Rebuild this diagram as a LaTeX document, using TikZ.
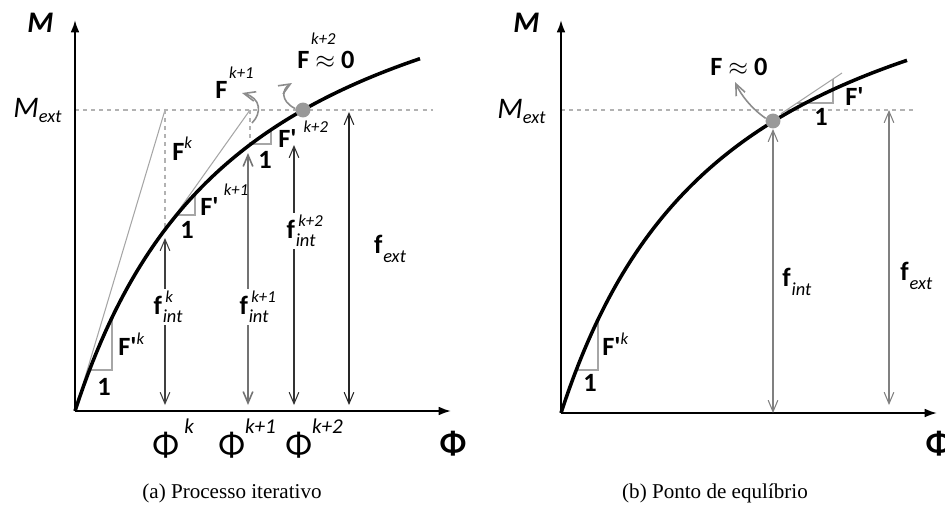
\documentclass[tikz,border=0pt]{standalone}
\usepackage{fontspec}
\setmainfont{Carlito}
\newfontfamily\capfont{Liberation Serif}
\usepackage{tikz}
\usetikzlibrary{arrows.meta}

\newcommand{\sz}[1]{\fontsize{#1}{#1}\selectfont}
\newcommand{\supr}[2]{\raisebox{#1}{\sz{9.5}\mdseries\itshape #2}}
\newcommand{\flab}[2]{\textbf{f}\rlap{\raisebox{0.42em}{\sz{9.5}\mdseries\itshape\hspace{2pt}#2}}\raisebox{-0.32em}{\sz{10.5}\mdseries\itshape\hspace{0.5pt}#1}}
\newcommand{\Fp}{F\textquotesingle}

\begin{document}
\begin{tikzpicture}[x=0.02cm, y=0.02cm, >={Straight Barb[length=6.5pt,width=5.5pt]},
    axis/.style={line width=1.1pt, -{Latex[length=7pt,width=5pt]}},
    curve/.style={line width=2pt},
    tang/.style={black!35, line width=0.6pt},
    guide/.style={black!30, line width=0.6pt, dash pattern=on 2.3pt off 2.3pt},
    dim/.style={<->, line width=0.6pt},
    iter/.style={->, black!45, line width=0.9pt},
    dot/.style={circle, fill=black!40, minimum size=8.5pt, inner sep=0pt},
    lbl/.style={font=\sz{15}\bfseries, inner sep=0pt},
    philbl/.style={font=\sz{20}, inner sep=0pt, anchor=base west},
    captxt/.style={font=\capfont\sz{12}}]

  \useasboundingbox (0,0) rectangle (945,522);

  % (a) iterative process
  \begin{scope}[shift={(75,111)}]
    \coordinate (oA) at (0,0);
    \coordinate (xA) at (376,0);
    \coordinate (yA) at (0,391);
    \coordinate (mA0) at (0,301);
    \coordinate (mA1) at (358,301);
    \coordinate (tA1) at (90,301);
    \coordinate (kA) at (90,181.4);
    \coordinate (tA2) at (175,301);
    \coordinate (k1A) at (175,266.3);
    \draw[guide] (mA0) -- (mA1);
    \draw[tang] (oA) -- (tA1);
    \draw[guide] (tA1) -- (kA);
    \draw[tang] (kA) -- (tA2);
    \draw[guide] (tA2) -- (k1A);
    \draw[tang] (14.5,41) -- (37,41) -- (37,93.5);
    \draw[tang] (101.5,196) -- (120,196) -- (120,217);
    \draw[tang] (176,267) -- (196,267) -- (196,281.2);
    \draw[curve] plot[domain=0:345, samples=80] (\x, {\x*(528/(172+\x))});
    \draw[axis] (oA) -- (xA);
    \draw[axis] (oA) -- (yA);
    \node[dot] (eqA) at (228,301) {};

    \coordinate (a1b) at (90,6);   \coordinate (a1t) at (90,173);
    \coordinate (a2b) at (173,6);  \coordinate (a2t) at (173,258);
    \coordinate (a3b) at (219,6);  \coordinate (a3t) at (219,266);
    \coordinate (a4b) at (274,6);  \coordinate (a4t) at (274,299);
    \draw[dim, black!75] (a1b) -- (a1t);
    \draw[dim, black!55, line width=0.9pt] (a2b) -- (a2t);
    \draw[dim, black!80] (a3b) -- (a3t);
    \draw[dim, black!85] (a4b) -- (a4t);
    \node[lbl, fill=white, inner sep=1.5pt] (fA1) at (93,104) {\flab{int}{k}};
    \node[lbl, fill=white, inner sep=1.5pt] (fA2) at (179,104) {\flab{int}{k+1}};
    \node[lbl, fill=white, inner sep=1.5pt] (fA3) at (226,180) {\flab{int}{k+2}};
    \node[lbl] (fA4) at (315,162) {\flab{ext}{}};

    \coordinate (ck1) at (177,288);
    \coordinate (ck1e) at (167,318);
    \coordinate (ck2e) at (217,328);
    \draw[iter] (ck1) .. controls (187,298) and (186,313) .. (ck1e);
    \draw[iter] (eqA.170) .. controls (205,310) and (207,322) .. (ck2e);

    \node[lbl, anchor=base west] (FkA) at (97,251) {F\supr{0.45em}{k}};
    \node[lbl, anchor=base west] (Fk1A) at (140,313) {F\hspace{1pt}\supr{0.75em}{k+1}};
    \node[lbl, anchor=base west] (Fk2A) at (222,343) {F\rlap{\hspace{1pt}\supr{0.9em}{k+2}} $\approx$ 0};
    \node[lbl, anchor=base west] (dFkA) at (43,56) {\Fp\supr{0.38em}{k}};
    \node[lbl, anchor=base west] (dFk1A) at (125,196) {\Fp\hspace{3pt}\supr{0.75em}{k+1}};
    \node[lbl, anchor=base west] (dFk2A) at (203,264) {\Fp\hspace{4pt}\supr{0.55em}{k+2}};
    \node[lbl, anchor=base west] (uA1) at (22,16) {1};
    \node[lbl, anchor=base west] (uA2) at (105,173) {1};
    \node[lbl, anchor=base west] (uA3) at (183,243) {1};

    \node[philbl] (pA1) at (77,-45) {Φ\hspace{3pt}\raisebox{13pt}{\sz{12}\itshape k}};
    \node[philbl] (pA2) at (143,-45) {Φ\raisebox{13pt}{\sz{12}\itshape k+1}};
    \node[philbl] (pA3) at (210,-45) {Φ\raisebox{13pt}{\sz{12}\itshape k+2}};
    \node[lbl, font=\sz{19}\bfseries] (phiA) at (378,-33) {Φ};
    \node[lbl, font=\sz{17}\bfseries\itshape, anchor=base west] (MA) at (-48,379) {M};
    \node[inner sep=0pt, font=\sz{17}\itshape, anchor=base west] (MeA) at (-62,294) {M\raisebox{-0.2em}{\sz{10.5}ext}};
  \end{scope}

  % (b) equilibrium point
  \begin{scope}[shift={(561,109)}]
    \coordinate (oB) at (0,0);
    \coordinate (xB) at (376,0);
    \coordinate (yB) at (0,393);
    \coordinate (mB0) at (0,303);
    \coordinate (mB1) at (352,303);
    \draw[guide] (mB0) -- (mB1);
    \draw[tang] (15.2,43) -- (37,43) -- (37,93.5);
    \draw[tang] (220,299.3) -- (281,340);
    \draw[tang] (236,310) -- (272,310) -- (272,334);
    \draw[curve] plot[domain=0:346, samples=80] (\x, {\x*(528/(172+\x))});
    \draw[axis] (oB) -- (xB);
    \draw[axis] (oB) -- (yB);
    \node[dot] (eqB) at (212,292) {};

    \coordinate (b1b) at (212,0);  \coordinate (b1t) at (212,284);
    \coordinate (b2b) at (328,8);  \coordinate (b2t) at (328,303);
    \draw[dim, black!50] (b1b) -- (b1t);
    \draw[dim, black!50] (b2b) -- (b2t);
    \node[lbl, anchor=west] (fB1) at (221,131) {\flab{int}{}};
    \node[lbl, anchor=west] (fB2) at (339,137) {\flab{ext}{}};

    \coordinate (cB) at (174,331);
    \draw[iter] (eqB.160) .. controls (190,305) and (180,318) .. (cB);

    \node[lbl, anchor=base west] (F0B) at (149,338) {F $\approx$ 0};
    \node[lbl, anchor=base west] (dFB) at (284,308) {\Fp};
    \node[lbl, anchor=base west] (uB2) at (253,288) {1};
    \node[lbl, anchor=base west] (dFkB) at (41,58) {\Fp\supr{0.38em}{k}};
    \node[lbl, anchor=base west] (uB1) at (22,22) {1};
    \node[lbl, font=\sz{19}\bfseries] (phiB) at (378,-31) {Φ};
    \node[lbl, font=\sz{17}\bfseries\itshape, anchor=base west] (MB) at (-48,381) {M};
    \node[inner sep=0pt, font=\sz{17}\itshape, anchor=base west] (MeB) at (-64,295) {M\raisebox{-0.2em}{\sz{10.5}ext}};
  \end{scope}

  \node[captxt] (capA) at (232,29) {(a) Processo iterativo};
  \node[captxt] (capB) at (715,29) {(b) Ponto de equlíbrio};
\end{tikzpicture}
\end{document}
